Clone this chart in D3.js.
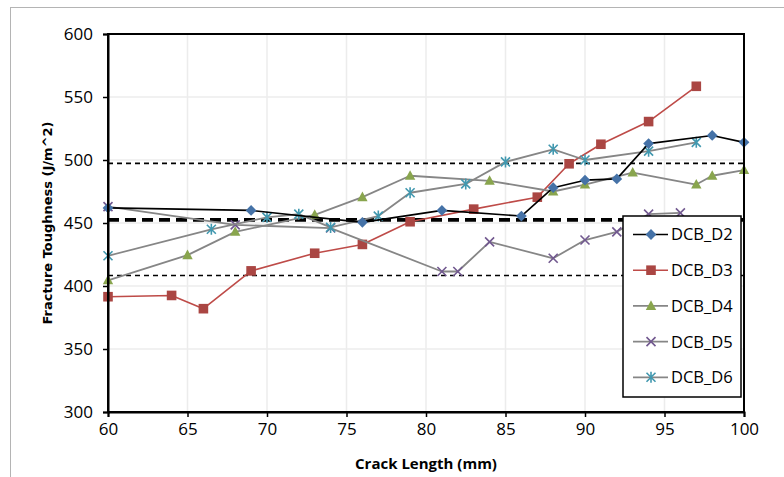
<!DOCTYPE html>
<html>
<head>
<meta charset="utf-8">
<script src="https://cdn.jsdelivr.net/npm/d3@7"></script>
<style>
  body { margin: 0; background: #fff; }
  text { font-family: "Open Sans", sans-serif; fill: #000; }
</style>
</head>
<body>
<svg id="chart" width="784" height="477"></svg>
<script>
// Crack length (mm) and fracture toughness (J/m^2) for each DCB specimen
const d2Length = [60, 69, 76, 81, 86, 88, 90, 92, 94, 98, 100];
const d2Tough  = [462, 460, 450.5, 460, 455.5, 478, 484, 485, 513, 519.5, 514];

const d3Length = [60, 64, 66, 69, 73, 76, 79, 83, 87, 89, 91, 94, 97];
const d3Tough  = [391.5, 392.5, 382, 412, 426, 433, 451, 461, 470.5, 497, 512.5, 530.5, 558.5];

const d4Length = [60, 65, 68, 73, 76, 79, 84, 88, 90, 93, 97, 98, 100];
const d4Tough  = [404.5, 424.5, 443, 456.5, 470.5, 487.5, 483.5, 475, 480.5, 490, 480.5, 487.5, 492];

const d5Length = [60, 68, 74, 81, 82, 84, 88, 90, 92, 94, 96];
const d5Tough  = [463, 448.5, 446, 411.5, 411.5, 435, 422, 436.5, 443, 457, 458];

const d6Length = [60, 66.5, 70, 72, 74, 77, 79, 82.5, 85, 88, 90, 94, 97];
const d6Tough  = [424, 445, 454.5, 457, 446.5, 455.5, 474, 481, 498.5, 508.5, 500, 507, 514];

const seriesNames = ["DCB_D2", "DCB_D3", "DCB_D4", "DCB_D5", "DCB_D6"];

// Mean toughness and scatter band
const meanTough = 452.5;
const bandUpper = 497.3;
const bandLower = 408.3;

const xTickValues = [60, 65, 70, 75, 80, 85, 90, 95, 100];
const yTickValues = [300, 350, 400, 450, 500, 550, 600];

const series = [
  { name: seriesNames[0], xs: d2Length, ys: d2Tough, line: "#000000", lineW: 1.6, marker: "diamond", color: "#4572a7" },
  { name: seriesNames[1], xs: d3Length, ys: d3Tough, line: "#be4b48", lineW: 1.6, marker: "square",  color: "#aa4643" },
  { name: seriesNames[2], xs: d4Length, ys: d4Tough, line: "#868686", lineW: 1.8, marker: "triangle", color: "#89a54e" },
  { name: seriesNames[3], xs: d5Length, ys: d5Tough, line: "#868686", lineW: 1.8, marker: "cross",   color: "#71588f" },
  { name: seriesNames[4], xs: d6Length, ys: d6Tough, line: "#868686", lineW: 1.8, marker: "star",    color: "#4198af" }
];

const svg = d3.select("#chart");

// outer chart frame
svg.append("rect")
  .attr("x", 10.5).attr("y", 7.5).attr("width", 900).attr("height", 600)
  .attr("fill", "#fff").attr("stroke", "#b4b4b4").attr("stroke-width", 1);

const plot = { left: 108, right: 744, top: 34, bottom: 412 };

const x = d3.scaleLinear().domain([60, 100]).range([plot.left, plot.right]);
const y = d3.scaleLinear().domain([300, 600]).range([plot.bottom, plot.top]);

// gridlines
const grid = svg.append("g");
grid.selectAll("line.v").data(xTickValues.slice(1, -1)).enter().append("line")
  .attr("x1", d => x(d)).attr("x2", d => x(d))
  .attr("y1", plot.top).attr("y2", plot.bottom)
  .attr("stroke", "#ececec").attr("stroke-width", 1.5);
grid.selectAll("line.h").data(yTickValues.slice(1, -1)).enter().append("line")
  .attr("x1", plot.left).attr("x2", plot.right)
  .attr("y1", d => y(d)).attr("y2", d => y(d))
  .attr("stroke", "#ececec").attr("stroke-width", 1.5);

// mean and band lines
const refLines = [
  { v: bandUpper, w: 1.6, dash: "5,4" },
  { v: bandLower, w: 1.6, dash: "5,4" },
  { v: meanTough, w: 3.6, dash: "11,6" }
];
svg.append("g").selectAll("line").data(refLines).enter().append("line")
  .attr("x1", plot.left).attr("x2", plot.right)
  .attr("y1", d => y(d.v)).attr("y2", d => y(d.v))
  .attr("stroke", "#000").attr("stroke-width", d => d.w)
  .attr("stroke-dasharray", d => d.dash);

// marker drawing
function drawMarker(g, type, color) {
  if (type === "diamond") {
    g.append("path").attr("d", "M0,-5.4L5.4,0L0,5.4L-5.4,0Z").attr("fill", color);
  } else if (type === "square") {
    g.append("rect").attr("x", -4.8).attr("y", -4.8).attr("width", 9.6).attr("height", 9.6).attr("fill", color);
  } else if (type === "triangle") {
    g.append("path").attr("d", "M0,-5.6L5.2,4L-5.2,4Z").attr("fill", color);
  } else if (type === "cross") {
    g.append("path").attr("d", "M-4.5,-4.5L4.5,4.5M-4.5,4.5L4.5,-4.5")
      .attr("stroke", color).attr("stroke-width", 1.6).attr("fill", "none");
  } else if (type === "star") {
    g.append("path").attr("d", "M-4.5,-4.5L4.5,4.5M-4.5,4.5L4.5,-4.5M0,-5.5L0,5.5")
      .attr("stroke", color).attr("stroke-width", 1.6).attr("fill", "none");
  }
}

const lineGen = d3.line().x(d => x(d[0])).y(d => y(d[1]));

// D3..D6 first, DCB_D2 kept on top
const drawOrder = [1, 2, 3, 4, 0];
drawOrder.forEach(idx => {
  const s = series[idx];
  const pts = s.xs.map((v, i) => [v, s.ys[i]]);
  const g = svg.append("g");
  g.append("path").datum(pts).attr("d", lineGen)
    .attr("fill", "none").attr("stroke", s.line).attr("stroke-width", s.lineW)
    .attr("stroke-linejoin", "round");
  g.selectAll("g.m").data(pts).enter().append("g")
    .attr("transform", d => `translate(${x(d[0])},${y(d[1])})`)
    .each(function () { drawMarker(d3.select(this), s.marker, s.color); });
});

// plot frame
svg.append("rect")
  .attr("x", plot.left).attr("y", plot.top)
  .attr("width", plot.right - plot.left).attr("height", plot.bottom - plot.top)
  .attr("fill", "none").attr("stroke", "#000").attr("stroke-width", 2);

// axes
const xAxis = d3.axisBottom(x).tickValues(xTickValues).tickSize(5).tickPadding(6).tickFormat(d3.format("d"));
const yAxis = d3.axisLeft(y).tickValues(yTickValues).tickSize(5).tickPadding(10).tickFormat(d3.format("d"));

const gx = svg.append("g").attr("transform", `translate(0,${plot.bottom})`).call(xAxis);
const gy = svg.append("g").attr("transform", `translate(${plot.left},0)`).call(yAxis);
[gx, gy].forEach(g => {
  g.select(".domain").attr("stroke", "#000").attr("stroke-width", 2);
  g.selectAll(".tick line").attr("stroke", "#000").attr("stroke-width", 1.5);
  g.selectAll(".tick text").style("font-family", "'Open Sans', sans-serif").style("font-size", "17px").attr("fill", "#000");
});

// axis titles
svg.append("text")
  .attr("x", (plot.left + plot.right) / 2).attr("y", 469)
  .attr("text-anchor", "middle")
  .style("font-size", "15px").style("font-weight", "bold")
  .text("Crack Length (mm)");

svg.append("text")
  .attr("transform", `translate(52,${(plot.top + plot.bottom) / 2}) rotate(-90)`)
  .attr("text-anchor", "middle")
  .style("font-family", "'DejaVu Sans', sans-serif")
  .style("font-size", "13px").style("font-weight", "bold")
  .text("Fracture Toughness (J/m^2)");

// legend
const legend = svg.append("g");
legend.append("rect")
  .attr("x", 623).attr("y", 216).attr("width", 118).attr("height", 181)
  .attr("fill", "#fff").attr("stroke", "#000").attr("stroke-width", 1.5);
series.forEach((s, i) => {
  const cy = 234.5 + i * 35.7;
  const row = legend.append("g");
  row.append("line").attr("x1", 633).attr("x2", 668).attr("y1", cy).attr("y2", cy)
    .attr("stroke", s.line).attr("stroke-width", s.lineW);
  const m = row.append("g").attr("transform", `translate(651,${cy})`);
  drawMarker(m, s.marker, s.color);
  row.append("text").attr("x", 671).attr("y", cy).attr("dy", "0.36em")
    .style("font-size", "16.5px").text(s.name);
});
</script>
</body>
</html>
